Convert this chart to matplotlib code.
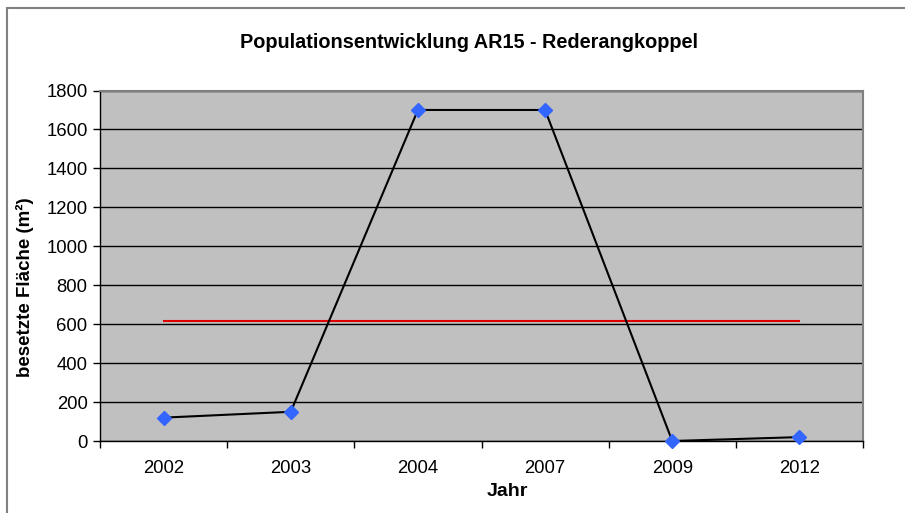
import numpy as np
import matplotlib
matplotlib.use("Agg")
from matplotlib import pyplot as plt
from matplotlib.patches import Rectangle

years = ['2002', '2003', '2004', '2007', '2009', '2012']
flaeche = [120, 150, 1700, 1700, 0, 20]
mittel = [615, 615, 615, 615, 615, 615]
yticks = [0, 200, 400, 600, 800, 1000, 1200, 1400, 1600, 1800]

plt.rcParams['font.family'] = ['Liberation Sans', 'DejaVu Sans']

W, H = 905, 513
fig = plt.figure(figsize=(W / 100, H / 100), dpi=100)
fig.patch.set_facecolor('white')

# chart border (cut off on the right and bottom)
fig.patches.append(Rectangle((7 / W, -0.1), 1.2, 1 - 8 / H + 0.1,
                             transform=fig.transFigure, fill=False,
                             edgecolor='#808080', lw=1.5))

left, right, top, bottom = 100, 863, 90.5, 441
ax = fig.add_axes([left / W, 1 - bottom / H, (right - left) / W, (bottom - top) / H])
ax.set_facecolor('#C0C0C0')

x = np.arange(len(years))
ax.set_xlim(-0.5, len(years) - 0.5)
ax.set_ylim(0, 1800)
ax.set_yticks(yticks)
ax.yaxis.grid(True, color='black', lw=1)
ax.set_axisbelow(True)

ax.plot(x, mittel, color='#E00000', lw=1.5, zorder=3)
ax.plot(x, flaeche, color='black', lw=1.5, marker='D', ms=7.5,
        mfc='#3366FF', mec='#3366FF', zorder=4, clip_on=False)

ax.set_xticks(x)
ax.set_xticklabels(years, fontsize=13.3)
ax.set_xticks(np.arange(len(years) + 1) - 0.5, minor=True)
ax.tick_params(axis='x', which='major', length=0, pad=14)
ax.tick_params(axis='x', which='minor', length=5, width=1, color='black')
ax.tick_params(axis='y', length=5, width=1, color='black', labelsize=13.3, pad=4)

for s in ['top', 'right']:
    ax.spines[s].set_color('#808080')
    ax.spines[s].set_linewidth(1.5)
for s in ['left', 'bottom']:
    ax.spines[s].set_color('black')
    ax.spines[s].set_linewidth(1)

fig.text(469 / W, 1 - 42 / H, 'Populationsentwicklung AR15 - Rederangkoppel',
         ha='center', va='center', fontsize=14.3, fontweight='bold')
fig.text(25 / W, 1 - 287 / H, 'besetzte Fläche (m²)', rotation=90,
         ha='center', va='center', fontsize=13.5, fontweight='bold')
fig.text(507 / W, 1 - 492 / H, 'Jahr', ha='center', va='center',
         fontsize=14, fontweight='bold')

fig.savefig('out.png', dpi=100)
